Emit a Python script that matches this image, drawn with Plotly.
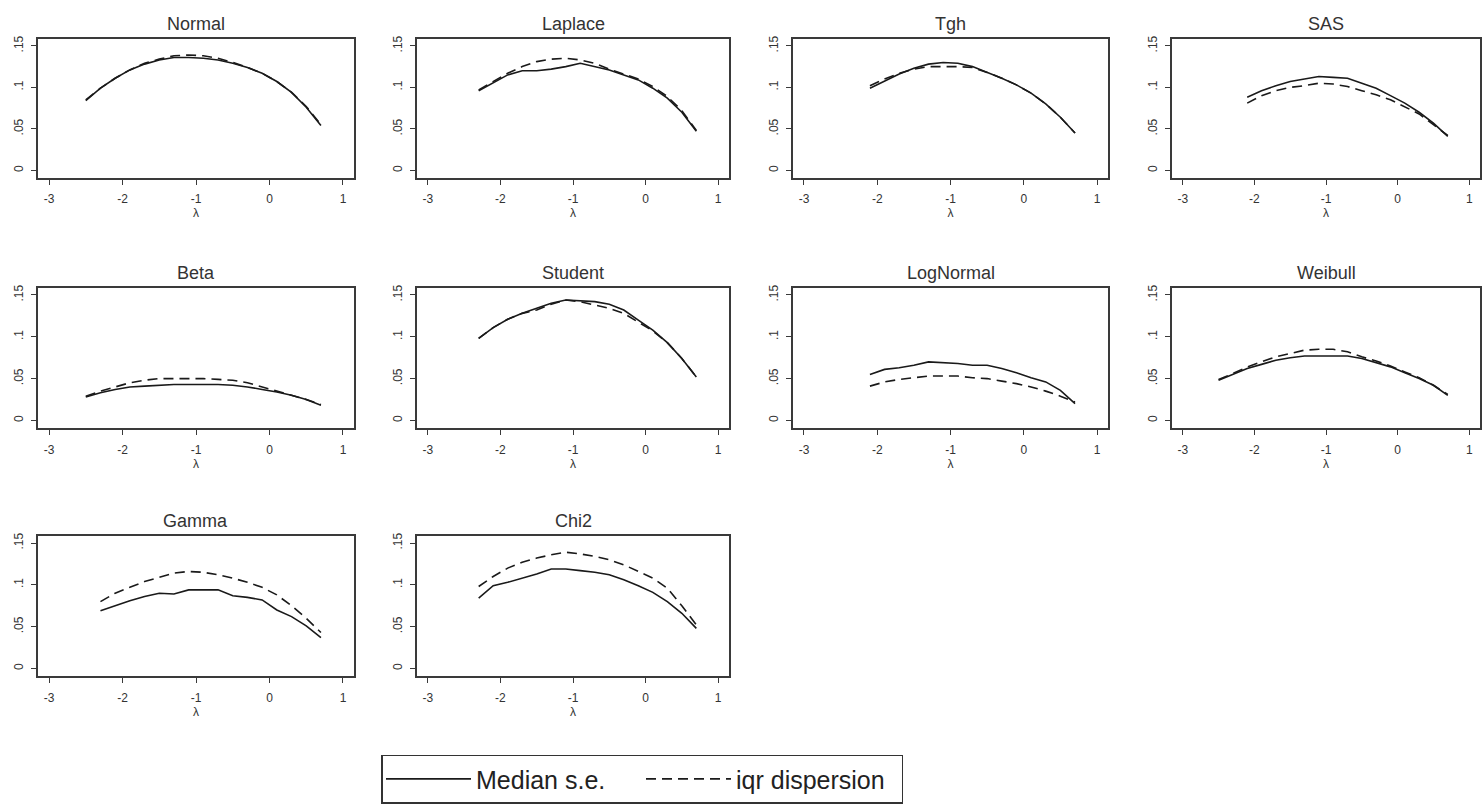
import plotly.graph_objects as go

# ---------------- data ----------------
panels = ["Normal", "Laplace", "Tgh", "SAS", "Beta", "Student",
          "LogNormal", "Weibull", "Gamma", "Chi2"]

lam_25 = [-2.5, -2.3, -2.1, -1.9, -1.7, -1.5, -1.3, -1.1, -0.9, -0.7, -0.5, -0.3, -0.1, 0.1, 0.3, 0.5, 0.7]
lam_23 = [-2.3, -2.1, -1.9, -1.7, -1.5, -1.3, -1.1, -0.9, -0.7, -0.5, -0.3, -0.1, 0.1, 0.3, 0.5, 0.7]
lam_21 = [-2.1, -1.9, -1.7, -1.5, -1.3, -1.1, -0.9, -0.7, -0.5, -0.3, -0.1, 0.1, 0.3, 0.5, 0.7]

normal_med = [0.084, 0.099, 0.111, 0.121, 0.128, 0.133, 0.136, 0.136, 0.135, 0.133, 0.129, 0.124, 0.117, 0.107, 0.094, 0.076, 0.054]
normal_iqr = [0.085, 0.099, 0.111, 0.121, 0.129, 0.134, 0.138, 0.139, 0.138, 0.135, 0.130, 0.124, 0.117, 0.107, 0.094, 0.077, 0.055]

laplace_med = [0.096, 0.106, 0.115, 0.120, 0.120, 0.122, 0.125, 0.129, 0.125, 0.121, 0.115, 0.109, 0.099, 0.087, 0.070, 0.047]
laplace_iqr = [0.097, 0.107, 0.117, 0.125, 0.131, 0.134, 0.135, 0.133, 0.129, 0.122, 0.116, 0.110, 0.101, 0.089, 0.072, 0.048]

tgh_med = [0.099, 0.108, 0.116, 0.123, 0.128, 0.130, 0.129, 0.125, 0.118, 0.111, 0.103, 0.093, 0.080, 0.064, 0.045]
tgh_iqr = [0.102, 0.110, 0.117, 0.122, 0.125, 0.125, 0.125, 0.124, 0.118, 0.111, 0.103, 0.093, 0.080, 0.064, 0.045]

sas_med = [0.088, 0.096, 0.102, 0.107, 0.110, 0.113, 0.112, 0.111, 0.105, 0.099, 0.090, 0.081, 0.070, 0.057, 0.041]
sas_iqr = [0.081, 0.090, 0.096, 0.100, 0.102, 0.105, 0.104, 0.101, 0.096, 0.091, 0.085, 0.077, 0.068, 0.055, 0.042]

beta_med = [0.028, 0.033, 0.037, 0.040, 0.041, 0.042, 0.043, 0.043, 0.043, 0.043, 0.042, 0.040, 0.037, 0.034, 0.030, 0.025, 0.018]
beta_iqr = [0.029, 0.035, 0.040, 0.045, 0.048, 0.050, 0.050, 0.050, 0.050, 0.049, 0.048, 0.045, 0.040, 0.035, 0.030, 0.025, 0.019]

student_med = [0.098, 0.111, 0.121, 0.128, 0.134, 0.140, 0.144, 0.143, 0.142, 0.139, 0.132, 0.120, 0.108, 0.093, 0.074, 0.052]
student_iqr = [0.098, 0.111, 0.121, 0.128, 0.132, 0.139, 0.144, 0.142, 0.138, 0.134, 0.128, 0.118, 0.107, 0.093, 0.074, 0.052]

lognormal_med = [0.055, 0.061, 0.063, 0.066, 0.070, 0.069, 0.068, 0.066, 0.066, 0.062, 0.057, 0.051, 0.046, 0.036, 0.020]
lognormal_iqr = [0.041, 0.046, 0.049, 0.051, 0.053, 0.053, 0.053, 0.051, 0.050, 0.047, 0.044, 0.040, 0.035, 0.029, 0.022]

weibull_med = [0.048, 0.055, 0.062, 0.067, 0.072, 0.075, 0.077, 0.077, 0.077, 0.077, 0.074, 0.069, 0.064, 0.057, 0.050, 0.042, 0.030]
weibull_iqr = [0.049, 0.056, 0.064, 0.070, 0.076, 0.080, 0.084, 0.085, 0.085, 0.082, 0.076, 0.071, 0.065, 0.058, 0.051, 0.042, 0.031]

gamma_med = [0.069, 0.075, 0.081, 0.086, 0.090, 0.089, 0.094, 0.094, 0.094, 0.087, 0.085, 0.082, 0.070, 0.062, 0.051, 0.037]
gamma_iqr = [0.080, 0.090, 0.097, 0.104, 0.109, 0.114, 0.116, 0.115, 0.112, 0.108, 0.103, 0.097, 0.088, 0.075, 0.060, 0.043]

chi2_med = [0.084, 0.099, 0.103, 0.108, 0.113, 0.119, 0.119, 0.117, 0.115, 0.112, 0.106, 0.099, 0.091, 0.080, 0.066, 0.048]
chi2_iqr = [0.098, 0.110, 0.120, 0.127, 0.132, 0.136, 0.139, 0.137, 0.134, 0.130, 0.124, 0.116, 0.108, 0.096, 0.075, 0.052]

x_tickvals = [-3, -2, -1, 0, 1]
x_ticktext = ["-3", "-2", "-1", "0", "1"]
y_tickvals = [0, 0.05, 0.1, 0.15]
y_ticktext = ["0", ".05", ".1", ".15"]

series = [
    (lam_25, normal_med, normal_iqr),
    (lam_23, laplace_med, laplace_iqr),
    (lam_21, tgh_med, tgh_iqr),
    (lam_21, sas_med, sas_iqr),
    (lam_25, beta_med, beta_iqr),
    (lam_23, student_med, student_iqr),
    (lam_21, lognormal_med, lognormal_iqr),
    (lam_25, weibull_med, weibull_iqr),
    (lam_23, gamma_med, gamma_iqr),
    (lam_23, chi2_med, chi2_iqr),
]

# ---------------- layout geometry ----------------
W, H = 1483, 809
col_px = [(38, 354), (417, 729), (793, 1108), (1172, 1480)]
row_px = [(36, 176), (286, 427), (535, 676)]
FONT = "Liberation Sans, Arial, sans-serif"
AX = "#3a3a3a"
LINE = "#1a1a1a"

fig = go.Figure()
annotations = []
layout_axes = {}

for i, (name, (lam, med, iqr)) in enumerate(zip(panels, series)):
    r, c = divmod(i, 4)
    l, rr = col_px[c]
    t, b = row_px[r]
    xa = "x" if i == 0 else f"x{i+1}"
    ya = "y" if i == 0 else f"y{i+1}"
    fig.add_trace(go.Scatter(
        x=lam, y=med, mode="lines", xaxis=xa, yaxis=ya,
        name="Median s.e.", legendgroup="med", showlegend=(i == 0),
        line=dict(color=LINE, width=1.6)))
    fig.add_trace(go.Scatter(
        x=lam, y=iqr, mode="lines", xaxis=xa, yaxis=ya,
        name="iqr dispersion", legendgroup="iqr", showlegend=(i == 0),
        line=dict(color=LINE, width=1.6, dash="10px,6px")))

    common = dict(showgrid=False, zeroline=False, showline=True, mirror=True,
                  linecolor=AX, linewidth=1.5, ticks="outside", ticklen=5,
                  tickcolor=AX, tickwidth=1,
                  tickfont=dict(family=FONT, size=12, color="#333333"))
    layout_axes["xaxis" if i == 0 else f"xaxis{i+1}"] = dict(
        domain=[l / W, rr / W], anchor=ya, range=[-3.15, 1.15],
        tickmode="array", tickvals=x_tickvals, ticktext=x_ticktext,
        ticklabelstandoff=4,
        title=dict(text="λ", font=dict(family=FONT, size=12, color="#333333"),
                   standoff=2),
        **common)
    layout_axes["yaxis" if i == 0 else f"yaxis{i+1}"] = dict(
        domain=[1 - b / H, 1 - t / H], anchor=xa, range=[-0.0096, 0.1584],
        tickmode="array", tickvals=y_tickvals, ticktext=y_ticktext,
        tickangle=-90, ticklabelstandoff=3,
        **common)
    annotations.append(dict(
        text=name, x=(l + rr) / 2 / W, y=1 - (t - 15) / H,
        xref="paper", yref="paper", xanchor="center", yanchor="middle",
        showarrow=False, font=dict(family=FONT, size=18, color="#333333")))

fig.update_layout(
    width=W, height=H,
    margin=dict(l=0, r=0, t=0, b=0),
    paper_bgcolor="white", plot_bgcolor="white",
    annotations=annotations,
    showlegend=True,
    legend=dict(
        orientation="h", x=642 / W, xanchor="center",
        y=1 - 779 / H, yanchor="middle",
        bordercolor="#333333", borderwidth=1.5, bgcolor="white",
        font=dict(family=FONT, size=25, color="#222222"),
        entrywidth=160, entrywidthmode="pixels", itemwidth=85,
    ),
    **layout_axes,
)

fig.write_html("out.html")
